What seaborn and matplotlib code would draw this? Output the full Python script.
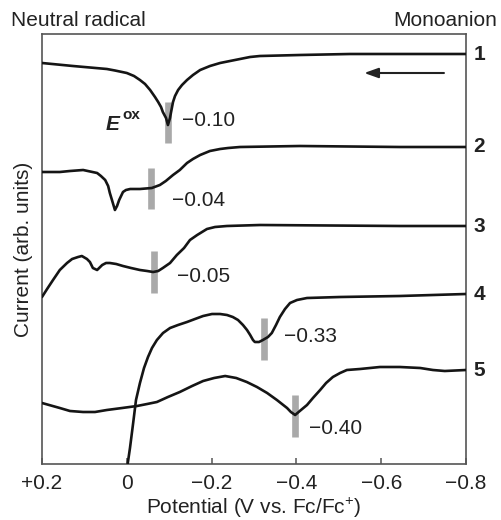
import matplotlib
matplotlib.use("Agg")
import matplotlib.pyplot as plt
import seaborn as sns
import pandas as pd

# ---- data (potential in V vs Fc/Fc+, current in arb. units) ----
c1_E = [0.200, 0.127, 0.047, 0.028, 0.000, -0.017, -0.031, -0.043, -0.055, -0.0665,
        -0.074, -0.0807, -0.085, -0.0925, -0.097, -0.1019, -0.104, -0.109, -0.1137, -0.121,
        -0.1302, -0.142, -0.1561, -0.173, -0.1962, -0.220, -0.2434, -0.267, -0.2906, -0.314,
        -0.3613, -0.408, -0.526, -0.644, -0.800]
c1_I = [4.01, 3.98, 3.95, 3.935, 3.91, 3.88, 3.84, 3.80, 3.74, 3.67,
        3.62, 3.57, 3.52, 3.46, 3.39, 3.46, 3.51, 3.62, 3.68, 3.74,
        3.79, 3.84, 3.89, 3.94, 3.98, 4.01, 4.03, 4.05, 4.07, 4.08,
        4.085, 4.09, 4.10, 4.10, 4.10]

c2_E = [0.200, 0.158, 0.134, 0.103, 0.070, 0.061, 0.051, 0.044, 0.040, 0.035,
        0.028, 0.023, 0.018, 0.009, 0.002, -0.008, -0.031, -0.059, -0.078, -0.092,
        -0.109, -0.125, -0.142, -0.156, -0.173, -0.196, -0.220, -0.239, -0.267, -0.408,
        -0.644, -0.800]
c2_I = [2.92, 2.92, 2.93, 2.94, 2.91, 2.88, 2.84, 2.78, 2.71, 2.64,
        2.54, 2.58, 2.64, 2.72, 2.74, 2.75, 2.75, 2.76, 2.79, 2.83,
        2.89, 2.94, 3.01, 3.05, 3.09, 3.13, 3.15, 3.16, 3.17, 3.18,
        3.17, 3.17]

c3_E = [0.200, 0.188, 0.174, 0.158, 0.141, 0.129, 0.115, 0.106, 0.094, 0.087,
        0.080, 0.070, 0.058, 0.049, 0.040, 0.025, 0.009, -0.010, -0.031, -0.048,
        -0.062, -0.074, -0.085, -0.102, -0.118, -0.135, -0.149, -0.166, -0.189, -0.208,
        -0.236, -0.314, -0.644, -0.800]
c3_I = [1.67, 1.75, 1.84, 1.94, 2.01, 2.05, 2.07, 2.08, 2.05, 2.02,
        1.96, 1.94, 1.99, 2.01, 2.01, 2.00, 1.98, 1.96, 1.94, 1.93,
        1.92, 1.93, 1.96, 2.01, 2.09, 2.16, 2.24, 2.29, 2.35, 2.37,
        2.38, 2.39, 2.38, 2.38]

c4_E = [-0.002, -0.0075, -0.015, -0.0217, -0.031, -0.0406, -0.050, -0.0594, -0.071, -0.0854,
        -0.102, -0.1208, -0.142, -0.1608, -0.180, -0.2009, -0.220, -0.2363, -0.250, -0.2623,
        -0.274, -0.2835, -0.291, -0.2976, -0.302, -0.3118, -0.321, -0.333, -0.342, -0.3519,
        -0.361, -0.3731, -0.385, -0.4014, -0.425, -0.503, -0.644, -0.800]
c4_I = [0.00, 0.16, 0.41, 0.64, 0.81, 0.96, 1.07, 1.16, 1.24, 1.31,
        1.36, 1.39, 1.42, 1.45, 1.48, 1.50, 1.50, 1.49, 1.47, 1.44,
        1.39, 1.34, 1.29, 1.24, 1.22, 1.22, 1.24, 1.27, 1.31, 1.39,
        1.47, 1.55, 1.61, 1.64, 1.66, 1.67, 1.68, 1.70]

c5_E = [0.200, 0.158, 0.134, 0.103, 0.075, 0.047, 0.011, -0.024, -0.048, -0.071,
        -0.097, -0.125, -0.154, -0.180, -0.206, -0.232, -0.258, -0.283, -0.307, -0.331,
        -0.354, -0.378, -0.387, -0.397, -0.408, -0.425, -0.439, -0.456, -0.470, -0.486,
        -0.503, -0.519, -0.550, -0.597, -0.644, -0.692, -0.722, -0.750, -0.800]
c5_I = [0.61, 0.56, 0.53, 0.52, 0.52, 0.54, 0.56, 0.58, 0.60, 0.62,
        0.67, 0.72, 0.78, 0.83, 0.86, 0.88, 0.86, 0.82, 0.77, 0.71,
        0.64, 0.56, 0.52, 0.49, 0.53, 0.59, 0.66, 0.74, 0.81, 0.87,
        0.91, 0.94, 0.95, 0.97, 0.97, 0.96, 0.94, 0.93, 0.94]

curve_names = ["1", "2", "3", "4", "5"]

# oxidation-potential markers and their labels
mark_E = [-0.097, -0.057, -0.064, -0.324, -0.397]
mark_lo = [3.21, 2.55, 1.71, 1.04, 0.27]
mark_hi = [3.62, 2.96, 2.13, 1.46, 0.69]
eox_labels = ["\u22120.10", "\u22120.04", "\u22120.05", "\u22120.33", "\u22120.40"]
eox_label_E = [-0.130, -0.107, -0.118, -0.371, -0.430]
eox_label_I = [3.43, 2.64, 1.87, 1.27, 0.36]

tick_vals = [0.2, 0.0, -0.2, -0.4, -0.6, -0.8]
tick_labels = ["+0.2", "0", "\u22120.2", "\u22120.4", "\u22120.6", "\u22120.8"]

# ---- style ----
sns.set_theme(style="white")
plt.rcParams["font.family"] = ["Liberation Sans", "DejaVu Sans"]
plt.rcParams["mathtext.fontset"] = "custom"
plt.rcParams["mathtext.rm"] = "Liberation Sans"
plt.rcParams["mathtext.it"] = "Liberation Sans:italic"
plt.rcParams["mathtext.bf"] = "Liberation Sans:bold"

FS = 15
frame_col = "#555555"
line_col = "#151515"
text_col = "#222222"

fig = plt.figure(figsize=(5.01, 5.20), dpi=100)
ax = fig.add_axes([42 / 501, 1 - 464 / 520, 424 / 501, 430 / 520])

curves = [(c1_E, c1_I), (c2_E, c2_I), (c3_E, c3_I), (c4_E, c4_I), (c5_E, c5_I)]
frames = []
for name, (E, I) in zip(curve_names, curves):
    frames.append(pd.DataFrame({"E": E, "I": I, "curve": name}))
df = pd.concat(frames, ignore_index=True)

# gray markers first (under the curves)
ax.vlines(mark_E, mark_lo, mark_hi, color="#a9a9a9", lw=4.8, zorder=1)

for name in curve_names:
    sub = df[df["curve"] == name]
    sns.lineplot(data=sub, x="E", y="I", ax=ax, color=line_col, lw=1.9,
                 sort=False, estimator=None, zorder=3,
                 solid_joinstyle="round", solid_capstyle="round")

ax.set_xlim(0.2, -0.8)
ax.set_ylim(0, 4.30)

for E, I, txt in zip(eox_label_E, eox_label_I, eox_labels):
    ax.text(E, I, txt, fontsize=FS, ha="left", va="center", color=text_col)

# E^ox label
ax.text(0.051, 3.34, "E", fontsize=FS, fontweight="bold", fontstyle="italic",
        ha="left", va="baseline", color=text_col)
ax.text(0.011, 3.45, "ox", fontsize=11, fontweight="bold",
        ha="left", va="baseline", color=text_col)

# curve numbers on the right
for name, (E, I) in zip(curve_names, curves):
    ax.text(1.017, I[-1], name, transform=ax.get_yaxis_transform(),
            fontsize=FS, fontweight="bold", ha="left", va="center",
            color=text_col, clip_on=False)

# scan direction arrow
ax.annotate("", xy=(-0.560, 3.91), xytext=(-0.748, 3.91),
            arrowprops=dict(arrowstyle="-|>,head_length=0.7,head_width=0.25",
                            color=text_col, lw=1.5, shrinkA=0, shrinkB=0))

# axes styling
ax.set_xticks(tick_vals)
ax.set_xticklabels(tick_labels, fontsize=FS, color=text_col)
ax.set_yticks([])
ax.tick_params(axis="x", direction="in", length=4, width=1.1, color=frame_col,
               bottom=True, top=False, pad=7)
for sp in ax.spines.values():
    sp.set_color(frame_col)
    sp.set_linewidth(1.2)

ax.set_xlabel("Potential (V vs. Fc/Fc$^{+}$)", fontsize=FS, color=text_col, labelpad=2)
ax.set_ylabel("Current (arb. units)", fontsize=FS, color=text_col)
ax.yaxis.set_label_coords(-0.022, 0.5)

fig.text(11 / 501, 1 - 20 / 520, "Neutral radical", fontsize=FS, ha="left",
         va="center", color=text_col)
fig.text(497 / 501, 1 - 20 / 520, "Monoanion", fontsize=FS, ha="right",
         va="center", color=text_col)

fig.savefig("out.png", dpi=100)
